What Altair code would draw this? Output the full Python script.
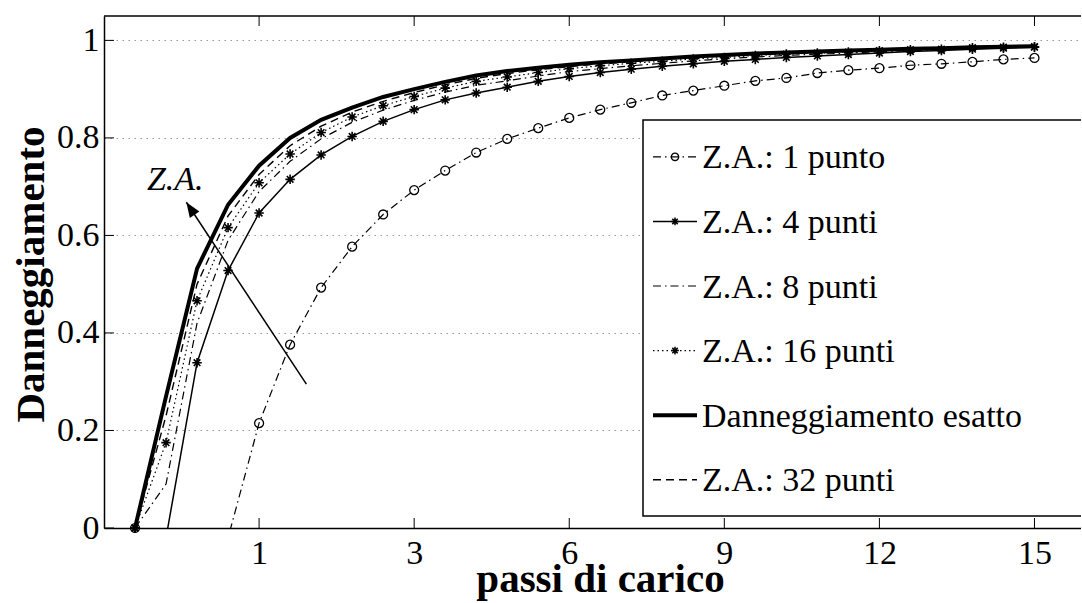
import altair as alt
import pandas as pd

# ---------------- data ----------------
names = ["Z.A.: 1 punto", "Z.A.: 4 punti", "Z.A.: 8 punti", "Z.A.: 16 punti",
         "Danneggiamento esatto", "Z.A.: 32 punti"]

xs = [-2.4, -1.8, -1.2, -0.6, 0.0, 0.6, 1.2, 1.8, 2.4, 3.0, 3.6, 4.2, 4.8, 5.4, 6.0,
      6.6, 7.2, 7.8, 8.4, 9.0, 9.6, 10.2, 10.8, 11.4, 12.0, 12.6, 13.2, 13.8, 14.4, 15.0]

za1 = [0.0, -0.15, -0.08, -0.02, 0.215, 0.376, 0.493, 0.577, 0.643, 0.693, 0.733, 0.770,
       0.798, 0.820, 0.841, 0.858, 0.872, 0.887, 0.897, 0.907, 0.917, 0.923, 0.933, 0.939,
       0.943, 0.949, 0.952, 0.956, 0.961, 0.964]
za4 = [0.0, -0.02, 0.339, 0.528, 0.646, 0.715, 0.765, 0.803, 0.834, 0.858, 0.878, 0.892,
       0.904, 0.916, 0.926, 0.934, 0.941, 0.947, 0.952, 0.957, 0.961, 0.965, 0.968, 0.971,
       0.974, 0.977, 0.979, 0.982, 0.984, 0.986]
za8 = [0.0, 0.09, 0.42, 0.59, 0.690, 0.752, 0.798, 0.832, 0.857, 0.877, 0.894, 0.908,
       0.917, 0.927, 0.936, 0.942, 0.948, 0.953, 0.958, 0.962, 0.966, 0.969, 0.972, 0.974,
       0.977, 0.979, 0.981, 0.984, 0.985, 0.987]
za16 = [0.0, 0.175, 0.466, 0.616, 0.708, 0.767, 0.811, 0.843, 0.866, 0.885, 0.902, 0.916,
        0.925, 0.934, 0.942, 0.948, 0.953, 0.957, 0.962, 0.965, 0.969, 0.972, 0.974, 0.976,
        0.979, 0.981, 0.982, 0.985, 0.986, 0.987]
exact = [0.0, 0.27, 0.532, 0.663, 0.743, 0.800, 0.837, 0.862, 0.884, 0.900, 0.915, 0.928,
         0.937, 0.944, 0.950, 0.955, 0.959, 0.963, 0.967, 0.970, 0.973, 0.975, 0.977, 0.979,
         0.981, 0.983, 0.984, 0.986, 0.987, 0.988]
za32 = [0.0, 0.23, 0.50, 0.64, 0.725, 0.784, 0.824, 0.853, 0.875, 0.893, 0.909, 0.922,
        0.932, 0.940, 0.946, 0.952, 0.956, 0.961, 0.965, 0.968, 0.971, 0.974, 0.976, 0.978,
        0.980, 0.982, 0.983, 0.985, 0.987, 0.988]

series_values = [za1, za4, za8, za16, exact, za32]

x_ticks = [0, 3, 6, 9, 12, 15]
x_tick_labels = ["1", "3", "6", "9", "12", "15"]
y_ticks = [0, 0.2, 0.4, 0.6, 0.8, 1.0]
y_tick_labels = ["0", "0.2", "0.4", "0.6", "0.8", "1"]

arrow_x = [0.915, -1.407]
arrow_y = [0.295, 0.668]
arrow_head = (-1.313, 0.653)
annot_text = "Z.A."
annot_pos = (-2.17, 0.693)

# ---------------- styles ----------------
FONT = "Liberation Serif"
W, H = 977, 512
dashes = [[8, 4, 1.5, 4], None, [8, 4, 1.5, 4], [1.5, 3], None, [8, 5]]
widths = [1.2, 1.5, 1.2, 1.2, 4, 1.4]
ASTER = "M0,-1L0,1M-1,0L1,0M-0.7,-0.7L0.7,0.7M-0.7,0.7L0.7,-0.7"
markers = ["circle", ASTER, None, ASTER, None, None]

xscale = alt.Scale(domain=[-3, 15.9], nice=False, zero=False)
yscale = alt.Scale(domain=[0, 1.05], nice=False, zero=False)


def expr_from(vals, labels):
    e = "''"
    for v, l in reversed(list(zip(vals, labels))):
        e = f"abs(datum.value - {v}) < 1e-6 ? '{l}' : ({e})"
    return e


common_axis = dict(labelFont=FONT, labelFontSize=34, labelColor="black",
                   titleFont=FONT, titleFontSize=41, titleFontWeight="bold",
                   titleColor="black", ticks=False, tickSize=0, domainColor="black",
                   domainWidth=1.5, labelFlush=False, labelOverlap=False,
                   titleBaseline="alphabetic", titleAlign="center")

X = alt.X("x:Q", scale=xscale, title="passi di carico",
          axis=alt.Axis(values=x_ticks, labelExpr=expr_from(x_ticks, x_tick_labels),
                        grid=False, labelPadding=8, titleX=496, titleY=63,
                        **common_axis))
Y = alt.Y("y:Q", scale=yscale, title="Danneggiamento",
          axis=alt.Axis(values=y_ticks, labelExpr=expr_from(y_ticks, y_tick_labels),
                        grid=True, gridDash=[1.5, 4.5], gridColor="#999", gridWidth=1,
                        labelPadding=5, titleX=-61, titleY=258, titleAngle=270,
                        **common_axis))

rows = []
for name, vals in zip(names, series_values):
    for xv, yv in zip(xs, vals):
        rows.append({"series": name, "x": xv, "y": yv})
df = pd.DataFrame(rows)

layers = []
for i, name in enumerate(names):
    sub = df[df["series"] == name]
    kw = dict(color="black", strokeWidth=widths[i], clip=True)
    if dashes[i]:
        kw["strokeDash"] = dashes[i]
    layers.append(alt.Chart(sub).mark_line(**kw).encode(x=X, y=Y))
    if markers[i]:
        circ = markers[i] == "circle"
        layers.append(
            alt.Chart(sub).transform_filter("datum.y >= 0").mark_point(
                shape=markers[i], size=80 if circ else 90,
                color="black", filled=False, strokeWidth=1.3 if circ else 1.6, opacity=1
            ).encode(x=X, y=Y))

# frame: top border and inward ticks
one = pd.DataFrame({"k": [0]})
layers.append(alt.Chart(one).mark_rule(color="black", strokeWidth=1.5).encode(
    x=alt.value(0), x2=alt.value(W + 30), y=alt.value(0)))
xt = pd.DataFrame({"x": x_ticks})
yt = pd.DataFrame({"y": y_ticks})
layers.append(alt.Chart(xt).mark_rule(color="black", strokeWidth=1).encode(
    x=X, y=alt.value(H), y2=alt.value(H - 10)))
layers.append(alt.Chart(xt).mark_rule(color="black", strokeWidth=1).encode(
    x=X, y=alt.value(0), y2=alt.value(10)))
layers.append(alt.Chart(yt).mark_rule(color="black", strokeWidth=1).encode(
    y=Y, x=alt.value(0), x2=alt.value(10)))

# arrow + annotation
arr = pd.DataFrame({"x": [arrow_x[0]], "y": [arrow_y[0]], "x2": [arrow_x[1]], "y2": [arrow_y[1]]})
layers.append(alt.Chart(arr).mark_rule(color="black", strokeWidth=1.5).encode(
    x=X, y=Y, x2="x2:Q", y2="y2:Q"))
head = pd.DataFrame({"x": [arrow_head[0]], "y": [arrow_head[1]]})
layers.append(alt.Chart(head).mark_point(
    shape="M0,-1L0.65,0.7L-0.65,0.7Z", size=310, filled=True, color="black",
    opacity=1, angle=326.6).encode(x=X, y=Y))
ann = pd.DataFrame({"x": [annot_pos[0]], "y": [annot_pos[1]], "t": [annot_text]})
layers.append(alt.Chart(ann).mark_text(
    font=FONT, fontSize=34, fontStyle="italic", align="left", baseline="alphabetic",
    color="black").encode(x=X, y=Y, text="t:N"))

# legend
LX0 = 539
layers.append(alt.Chart(one).mark_rect(fill="white", stroke="black", strokeWidth=1.5).encode(
    x=alt.value(LX0), x2=alt.value(LX0 + 500), y=alt.value(104), y2=alt.value(500)))
for i, name in enumerate(names):
    base_y = 152.3 + i * 64.6
    ly = base_y - 11.5
    kw = dict(color="black", strokeWidth=widths[i])
    if dashes[i]:
        kw["strokeDash"] = dashes[i]
    layers.append(alt.Chart(one).mark_rule(**kw).encode(
        x=alt.value(LX0 + 10), x2=alt.value(LX0 + 54), y=alt.value(ly)))
    if markers[i]:
        circ = markers[i] == "circle"
        layers.append(alt.Chart(one).mark_point(
            shape=markers[i], size=55 if circ else 60,
            color="black", filled=False, strokeWidth=1.3 if circ else 1.5, opacity=1).encode(
            x=alt.value(LX0 + 32), y=alt.value(ly)))
    lab = pd.DataFrame({"label": [name]})
    layers.append(alt.Chart(lab).mark_text(
        font=FONT, fontSize=34, align="left", baseline="alphabetic", color="black").encode(
        x=alt.value(LX0 + 59), y=alt.value(base_y), text="label:N"))

chart = alt.layer(*layers).properties(
    width=W, height=H,
    padding={"left": 104, "top": 16, "right": 0, "bottom": 75},
    autosize=alt.AutoSizeParams(type="none"),
    background="white",
).configure_view(stroke=None)

chart.save("out.html", embed_options={"renderer": "svg", "actions": False})
